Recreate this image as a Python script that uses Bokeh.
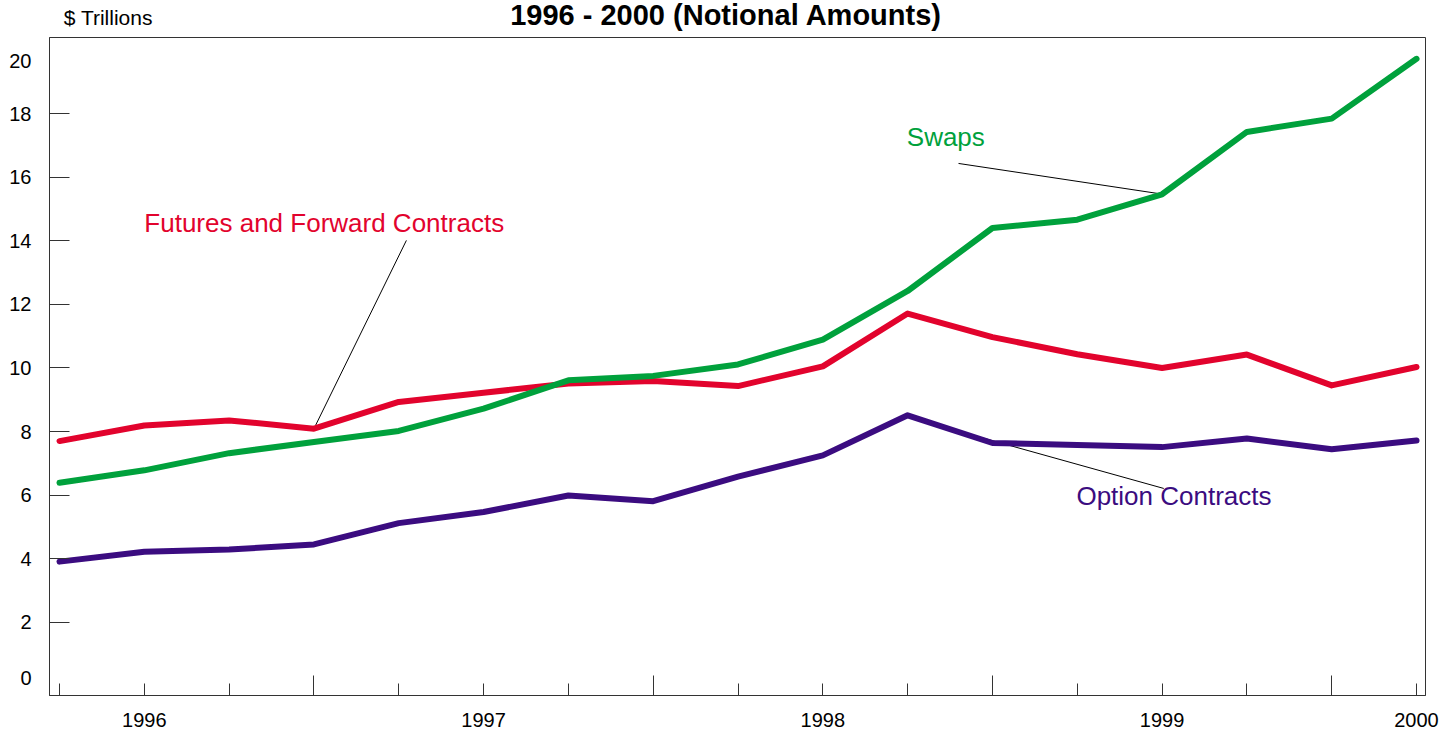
from bokeh.plotting import figure
from bokeh.layouts import column
from bokeh.models import Range1d, FixedTicker, LinearAxis
from bokeh.core.properties import value
from bokeh.embed import file_html
from bokeh.resources import INLINE

# ---- data (notional amounts, $ trillions, quarterly) ----
quarters = list(range(17))
futures = [7.70, 8.19, 8.35, 8.09, 8.93, 9.22, 9.51, 9.59, 9.43, 10.05,
           11.71, 10.97, 10.43, 10.00, 10.42, 9.45, 10.03]
swaps = [6.39, 6.78, 7.32, 7.67, 8.02, 8.72, 9.61, 9.75, 10.11, 10.89,
         12.42, 14.40, 14.66, 15.46, 17.42, 17.84, 19.72]
options = [3.91, 4.22, 4.29, 4.45, 5.12, 5.47, 5.99, 5.81, 6.58, 7.25,
           8.51, 7.64, 7.58, 7.51, 7.78, 7.44, 7.72]

year_ticks = [1, 5, 9, 13, 16]
year_labels = ["1996", "1997", "1998", "1999", "2000"]
boundary_ticks = [3, 7, 11, 15]
other_ticks = [0, 2, 4, 6, 8, 10, 12, 14]
y_ticks = [2, 4, 6, 8, 10, 12, 14, 16, 18]
# label positions of the value axis (end labels sit slightly inside, as in the original)
y_label_pos = [0.26, 2, 4, 6, 8, 10, 12, 14, 16, 18, 19.65]
y_label_text = ["0", "2", "4", "6", "8", "10", "12", "14", "16", "18", "20"]

series_names = ["Futures and Forward Contracts", "Swaps", "Option Contracts"]
series_colors = ["#E2032D", "#00A13C", "#3B0C80"]
# label anchor (data coords) and leader line endpoints (data coords)
label_x = [1.0, 9.99, 11.99]
label_y = [14.55, 17.27, 5.97]
leader_x0 = [4.09, 10.60, 13.02]
leader_y0 = [14.01, 16.43, 6.21]
leader_x1 = [3.0, 12.94, 10.83]
leader_y1 = [futures[3], 15.49, 7.84]

title_text = "1996 - 2000 (Notional Amounts)"
unit_text = "$ Trillions"

X_START, X_END = -0.118, 16.106
Y_START, Y_END = -0.30, 20.39
FONT = "Liberation Sans"
AXIS_COLOR = "#333333"
LEFT, RIGHT, TOP, BOTTOM = 49, 30, 37, 37
FRAME_W, FRAME_H = 1376, 658

xr = Range1d(X_START, X_END)

# ---- heading strip ----
head = figure(frame_width=FRAME_W, frame_height=TOP, x_range=xr, y_range=Range1d(0, TOP),
              output_backend="svg", toolbar_location=None, title=None,
              x_axis_location=None, y_axis_location=None,
              min_border_left=LEFT, min_border_right=RIGHT, min_border_top=0,
              min_border_bottom=0, outline_line_color=None)
head.grid.visible = False
head.text(x=[7.86], y=[23], text=[title_text], text_color="black", text_font=value(FONT),
          text_font_style="bold", text_font_size="29px", text_align="center",
          text_baseline="alphabetic")
head.text(x=[0.05], y=[20], text=[unit_text], text_color="black", text_font=value(FONT),
          text_font_size="21px", text_align="left", text_baseline="alphabetic")

# ---- main chart ----
p = figure(frame_width=FRAME_W, frame_height=FRAME_H,
           x_range=xr, y_range=Range1d(Y_START, Y_END),
           output_backend="svg", toolbar_location=None, title=None,
           min_border_left=LEFT, min_border_right=RIGHT, min_border_top=0,
           min_border_bottom=BOTTOM)
p.xgrid.visible = False
p.ygrid.visible = False
p.outline_line_color = AXIS_COLOR
p.outline_line_width = 1

# y axis: tick marks only (as minor ticks, so no labels are produced)
yax = p.yaxis[0]
yax.ticker = FixedTicker(ticks=[], minor_ticks=y_ticks)
yax.major_tick_in = 0
yax.major_tick_out = 0
yax.minor_tick_in = 20
yax.minor_tick_out = 0
yax.major_label_standoff = 0
yax.axis_line_color = AXIS_COLOR
yax.minor_tick_line_color = AXIS_COLOR

# y axis: labels only
ylab = LinearAxis(ticker=FixedTicker(ticks=y_label_pos, minor_ticks=[]),
                  major_label_overrides={t: l for t, l in zip(y_label_pos, y_label_text)},
                  major_tick_in=0, major_tick_out=0, minor_tick_in=0, minor_tick_out=0,
                  axis_line_color=None, major_label_standoff=18,
                  major_label_text_font=FONT, major_label_text_font_size="20px",
                  major_label_text_color="black")
p.add_layout(ylab, "left")

# x axis: short quarter ticks only
xax = p.xaxis[0]
xax.ticker = FixedTicker(ticks=[], minor_ticks=other_ticks)
xax.major_tick_in = 0
xax.major_tick_out = 0
xax.minor_tick_in = 12
xax.minor_tick_out = 0
xax.major_label_standoff = 0
xax.axis_line_color = AXIS_COLOR
xax.minor_tick_line_color = AXIS_COLOR

# x axis: year labels (short ticks) + long ticks between years
xlab = LinearAxis(ticker=FixedTicker(ticks=year_ticks, minor_ticks=boundary_ticks),
                  major_label_overrides={t: l for t, l in zip(year_ticks, year_labels)},
                  major_tick_in=12, major_tick_out=0, minor_tick_in=20, minor_tick_out=0,
                  axis_line_color=None, major_label_standoff=17,
                  major_tick_line_color=AXIS_COLOR, minor_tick_line_color=AXIS_COLOR,
                  major_label_text_font=FONT, major_label_text_font_size="20px",
                  major_label_text_color="black")
p.add_layout(xlab, "below")

# leader lines
p.segment(x0=leader_x0, y0=leader_y0, x1=leader_x1, y1=leader_y1,
          line_color="black", line_width=1)

# series
for ys, c in zip([futures, swaps, options], series_colors):
    p.line(quarters, ys, line_color=c, line_width=6, line_cap="round", line_join="round")

# series labels
for name, c, lx, ly in zip(series_names, series_colors, label_x, label_y):
    p.text(x=[lx], y=[ly], text=[name], text_color=c, text_font=value(FONT),
           text_font_size="26px", text_align="left", text_baseline="alphabetic")

layout = column(head, p, spacing=0)
open("out.html", "w").write(file_html(layout, INLINE))
